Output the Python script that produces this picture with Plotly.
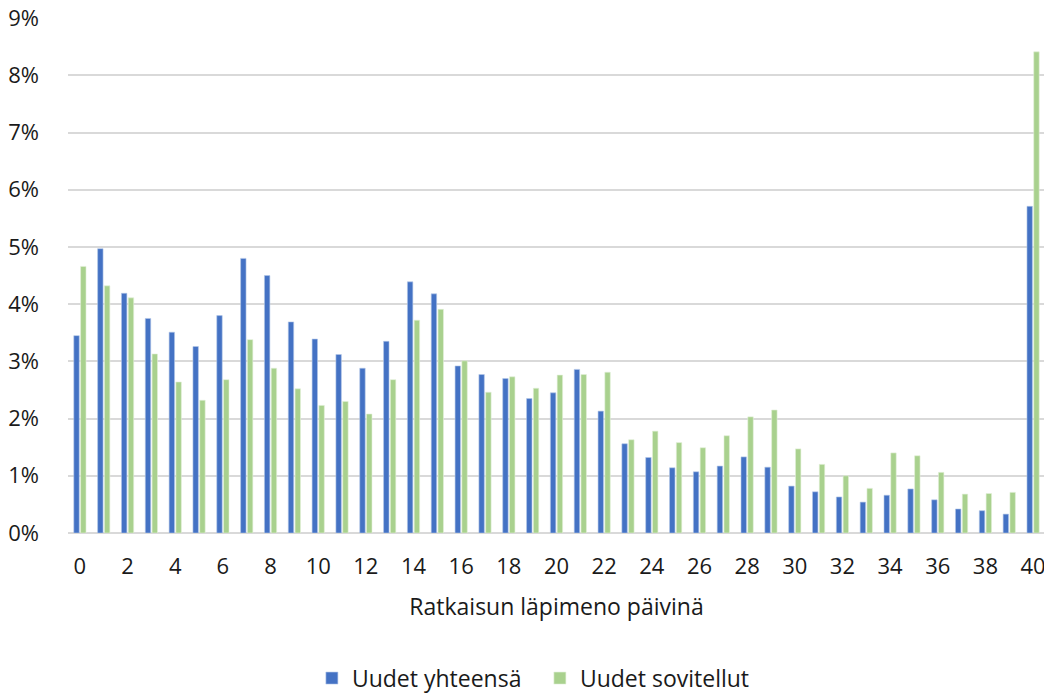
import plotly.graph_objects as go

days = list(range(41))
uudet_yhteensa = [3.45, 4.97, 4.19, 3.75, 3.51, 3.26, 3.80, 4.80, 4.50, 3.69,
                  3.39, 3.12, 2.88, 3.35, 4.39, 4.18, 2.92, 2.77, 2.70, 2.35,
                  2.45, 2.86, 2.13, 1.56, 1.32, 1.14, 1.07, 1.17, 1.33, 1.15,
                  0.82, 0.72, 0.63, 0.54, 0.66, 0.77, 0.58, 0.42, 0.39, 0.33,
                  5.71]
uudet_sovitellut = [4.66, 4.32, 4.11, 3.13, 2.64, 2.32, 2.68, 3.38, 2.88, 2.52,
                    2.23, 2.30, 2.08, 2.68, 3.72, 3.91, 3.01, 2.46, 2.73, 2.53,
                    2.76, 2.77, 2.81, 1.63, 1.78, 1.58, 1.49, 1.70, 2.03, 2.15,
                    1.47, 1.20, 1.00, 0.78, 1.40, 1.35, 1.06, 0.68, 0.69, 0.71,
                    8.41]
series_names = ["Uudet yhteensä", "Uudet sovitellut"]
y_ticks = [0, 1, 2, 3, 4, 5, 6, 7, 8, 9]
y_labels = [f"{v}%" for v in y_ticks]
x_ticks = list(range(0, 41, 2))

FONT = "Open Sans, sans-serif"
TXT = "#1a1a1a"

fig = go.Figure()
fig.add_trace(go.Bar(x=days, y=uudet_yhteensa, name=series_names[0],
                     marker=dict(color="#4472C4", line=dict(color="#B4C7E7", width=0.6))))
fig.add_trace(go.Bar(x=days, y=uudet_sovitellut, name=series_names[1],
                     marker=dict(color="#A9D18E", line=dict(color="#E2F0D9", width=0.6))))

fig.update_layout(
    width=1044, height=693,
    margin=dict(l=60, r=7, t=10, b=168, autoexpand=False),
    paper_bgcolor="white", plot_bgcolor="white",
    barmode="group", bargap=0.43, bargroupgap=0.2,
    font=dict(family=FONT, size=23, color=TXT),
    showlegend=True,
    legend=dict(orientation="h", x=0.483, xanchor="center", yref="container",
                y=0.033, yanchor="middle", font=dict(size=23, color=TXT),
                entrywidth=183, traceorder="normal"),
    xaxis=dict(range=[-0.5, 40.5], tickmode="array", tickvals=x_ticks,
               ticktext=[str(v) for v in x_ticks], showgrid=False,
               zeroline=False, showline=False, ticks="", automargin=False,
               ticklabelstandoff=18, tickfont=dict(size=22),
               ticklabeloverflow="allow",
               title=dict(text="Ratkaisun läpimeno päivinä", standoff=19,
                          font=dict(size=23, color=TXT))),
    yaxis=dict(range=[0, 9.002], tickmode="array", tickvals=y_ticks, ticktext=y_labels,
               showgrid=True, gridcolor="#D9D9D9", gridwidth=1.5,
               zeroline=True, zerolinecolor="#D9D9D9", zerolinewidth=1.5,
               showline=False, ticks="", ticklabelstandoff=28, tickfont=dict(size=22),
               ticklabeloverflow="allow", automargin=False),
)

fig.write_html("out.html")
